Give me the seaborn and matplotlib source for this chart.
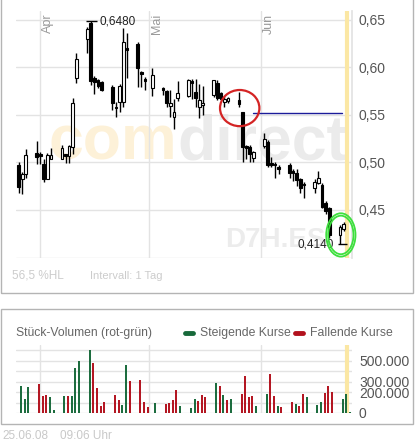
import numpy as np
import pandas as pd
import matplotlib
matplotlib.use("Agg")
import matplotlib.pyplot as plt
import matplotlib.dates as mdates
from matplotlib.patches import Ellipse, Rectangle
from matplotlib.lines import Line2D
import seaborn as sns

# trading days (May 1st holiday)
days = pd.bdate_range("2008-03-26", "2008-06-25")
days = days[days != pd.Timestamp("2008-05-01")]
candle_days = days[:-1]

# daily candles, Mar 26 .. Jun 24
opens = [0.497, 0.483, 0.488,
         0.510, 0.509, 0.498, 0.483, 0.503,
         0.503, 0.508, 0.507, 0.516, 0.589,
         0.630, 0.646, 0.589, 0.586, 0.584,
         0.579, 0.558, 0.563, 0.563, 0.620,
         0.624, 0.595, 0.588, 0.578,
         0.578, 0.575, 0.559, 0.548, 0.568,
         0.570, 0.585, 0.574, 0.558, 0.560,
         0.571, 0.583, 0.573, 0.563, 0.564,
         0.566, 0.553, 0.517, 0.516, 0.505,
         0.517, 0.521, 0.499, 0.498, 0.495,
         0.497, 0.490, 0.489, 0.483, 0.477,
         0.473, 0.478, 0.476, 0.457, 0.452,
         0.424, 0.430]
highs = [0.500, 0.490, 0.514,
         0.522, 0.511, 0.503, 0.510, 0.515,
         0.518, 0.509, 0.518, 0.568, 0.615,
         0.642, 0.648, 0.591, 0.588, 0.585,
         0.581, 0.563, 0.582, 0.641, 0.636,
         0.626, 0.596, 0.590, 0.599,
         0.579, 0.576, 0.576, 0.567, 0.585,
         0.588, 0.588, 0.588, 0.582, 0.580,
         0.587, 0.586, 0.574, 0.570, 0.569,
         0.574, 0.553, 0.518, 0.518, 0.512,
         0.531, 0.523, 0.506, 0.500, 0.497,
         0.499, 0.493, 0.493, 0.484, 0.479,
         0.483, 0.491, 0.478, 0.459, 0.453,
         0.434, 0.437]
lows = [0.468, 0.467, 0.484,
        0.498, 0.498, 0.479, 0.482, 0.503,
        0.503, 0.499, 0.499, 0.509, 0.583,
        0.615, 0.581, 0.572, 0.578, 0.575,
        0.555, 0.548, 0.553, 0.558, 0.589,
        0.579, 0.579, 0.576, 0.570,
        0.571, 0.558, 0.548, 0.535, 0.564,
        0.569, 0.567, 0.558, 0.547, 0.550,
        0.569, 0.565, 0.565, 0.558, 0.562,
        0.558, 0.500, 0.504, 0.500, 0.500,
        0.515, 0.495, 0.495, 0.484, 0.488,
        0.484, 0.480, 0.475, 0.468, 0.462,
        0.468, 0.477, 0.452, 0.446, 0.421,
        0.414, 0.428]
closes = [0.474, 0.488, 0.508,
          0.506, 0.507, 0.483, 0.508, 0.508,
          0.515, 0.507, 0.517, 0.562, 0.609,
          0.640, 0.585, 0.584, 0.580, 0.576,
          0.562, 0.557, 0.580, 0.626, 0.618,
          0.599, 0.593, 0.585, 0.592,
          0.576, 0.562, 0.562, 0.553, 0.573,
          0.586, 0.583, 0.568, 0.566, 0.562,
          0.586, 0.568, 0.567, 0.567, 0.568,
          0.561, 0.516, 0.515, 0.509, 0.511,
          0.524, 0.497, 0.497, 0.497, 0.493,
          0.489, 0.489, 0.481, 0.473, 0.476,
          0.479, 0.484, 0.453, 0.449, 0.424,
          0.432, 0.435]

# volume, Mar 26 .. Jun 25 (g = steigend, r = fallend)
volumes = [260000, 135000, 250000,
           280000, 165000, 175000, 155000, 30000,
           165000, 165000, 165000, 430000, 500000,
           605000, 480000, 240000, 70000, 105000,
           175000, 125000, 75000, 460000, 310000,
           315000, 105000, 60000, 100000,
           85000, 100000, 125000, 220000, 70000,
           50000, 135000, 115000, 175000, 155000,
           290000, 260000, 175000, 125000, 135000,
           185000, 355000, 155000, 165000, 70000,
           185000, 375000, 165000, 70000, 60000,
           105000, 85000, 70000, 185000, 155000,
           75000, 105000, 195000, 260000, 200000,
           135000, 185000, 10000]
vol_dir = list("ggg" "rrrgg" "grggg" "grrrr" "rrggr" "rrrg"
               "rrrrg" "ggrrr" "grgrg" "rrrrg" "grrgr" "rgrrg"
               "ggrrr" "ggg")

price_ticks = [0.40, 0.45, 0.50, 0.55, 0.60, 0.65]
price_labels = ["", "0,45", "0,50", "0,55", "0,60", "0,65"]
vol_ticks = [0, 100000, 200000, 300000, 400000, 500000, 600000]
vol_labels = ["0", "", "200.000", "300.000", "", "500.000", ""]
months = pd.to_datetime(["2008-04-01", "2008-05-01", "2008-06-01"])
month_names = ["Apr", "Mai", "Jun"]

x_start = pd.Timestamp("2008-03-25 07:00")
x_end = pd.Timestamp("2008-06-26 07:00")
today = pd.Timestamp("2008-06-24 20:00")

# markers drawn by the user on the chart
resist_level = 0.5523
resist_from = pd.Timestamp("2008-05-29 19:00")
resist_to = pd.Timestamp("2008-06-23 10:00")
red_ring = (pd.Timestamp("2008-05-26 05:00"), 0.557)
green_ring = (pd.Timestamp("2008-06-23 05:00"), 0.4237)

W, H = 417, 443
def fx(px):
    return px / W
def fy(py):
    return 1 - py / H

sns.set_theme(style="white")
plt.rcParams["font.family"] = ["Liberation Sans", "DejaVu Sans"]

green = "#17693a"
red = "#b2111d"
grid_c = "#e3e3e3"
label_c = "#555555"

fig = plt.figure(figsize=(W / 100, H / 100), dpi=100)
fig.patch.set_facecolor("white")

# ---------------- price panel ----------------
ax = fig.add_axes([fx(16), fy(257.5), fx(352) - fx(16), fy(11) - fy(257.5)])
ax.set_xlim(x_start, x_end)
ax.set_ylim(0.40, 0.659)
ax.set_xticks(months)
ax.set_xticklabels([])
ax.set_yticks(price_ticks)
ax.set_yticklabels(price_labels)
ax.yaxis.tick_right()
ax.tick_params(axis="y", length=0, pad=5, labelsize=10, labelcolor=label_c)
ax.tick_params(axis="x", length=0)
ax.grid(True, color=grid_c, lw=1)
for s in ["top", "left", "bottom"]:
    ax.spines[s].set_visible(False)
ax.spines["right"].set_color(grid_c)
ax.set_axisbelow(True)

# watermark
ax.text(fx(177), fy(160), "com", transform=fig.transFigure, ha="right", va="baseline",
        fontsize=45, fontweight="bold", color="#fdf1d8", zorder=0.5)
ax.text(fx(177), fy(160), "direct", transform=fig.transFigure, ha="left", va="baseline",
        fontsize=45, fontweight="bold", color="#ebebeb", zorder=0.5)
ax.text(fx(225), fy(247), "D7H.ES", transform=fig.transFigure, ha="left", va="baseline",
        fontsize=20, fontweight="bold", color="#ececec", zorder=0.5)

ax.axvline(today, color="#fbe7a4", lw=3, zorder=0.8)

for m, name in zip(months, month_names):
    ax.text(m + pd.Timedelta(hours=13), 0.656, name, rotation=90, ha="left", va="top",
            fontsize=9, color="#9a9a9a")

o = np.array(opens)
c = np.array(closes)
rising = c >= o
ax.vlines(candle_days, lows, highs, color="black", lw=1, zorder=3)
body_low = np.minimum(o, c)
body_h = np.maximum(np.abs(c - o), 0.0015)
ax.bar(candle_days, body_h, bottom=body_low, width=0.75,
       color=np.where(rising, "white", "black"), edgecolor="black", lw=0.8, zorder=4)

# high / low labels
i_hi = int(np.argmax(highs))
i_lo = int(np.argmin(lows))
d_hi = candle_days[i_hi]
d_lo = candle_days[i_lo]
ax.hlines(highs[i_hi], d_hi - pd.Timedelta(days=1.2), d_hi + pd.Timedelta(days=1.8),
          color="black", lw=1, zorder=4)
ax.text(d_hi + pd.Timedelta(days=2.3), highs[i_hi], f"{highs[i_hi]:.4f}".replace(".", ","),
        ha="left", va="center", fontsize=8.5, color="#222222")
ax.hlines(lows[i_lo], d_lo - pd.Timedelta(days=0.6), d_lo + pd.Timedelta(days=2),
          color="black", lw=1, zorder=4)
ax.text(d_lo - pd.Timedelta(days=1.6), lows[i_lo], f"{lows[i_lo]:.4f}".replace(".", ","),
        ha="right", va="center", fontsize=8.5, color="#222222", zorder=5)

sns.lineplot(x=[resist_from, resist_to], y=[resist_level, resist_level], ax=ax,
             color="#1c1c9a", lw=1, zorder=5)

ax.add_patch(Ellipse((mdates.date2num(red_ring[0]), red_ring[1]), 10.9, 0.038,
                     fill=False, edgecolor="#d42424", lw=1.6, zorder=6))
gx = mdates.date2num(green_ring[0])
ax.add_patch(Ellipse((gx, green_ring[1]), 8.1, 0.0455,
                     fill=False, edgecolor="#3ddf3d", lw=1.3, zorder=6, clip_on=False))
ax.add_patch(Ellipse((gx, green_ring[1]), 7.0, 0.0405,
                     fill=False, edgecolor="#3ddf3d", lw=1.3, zorder=6, clip_on=False))

fig.text(fx(12), fy(276), "56,5 %HL", fontsize=8.5, color="#cccccc", va="center")
fig.text(fx(90), fy(276), "Intervall: 1 Tag", fontsize=8, color="#cccccc", va="center")

# ---------------- volume panel ----------------
av = fig.add_axes([fx(16), fy(413), fx(352) - fx(16), fy(345) - fy(413)])
av.set_xlim(x_start, x_end)
av.set_ylim(0, 650000)
av.set_xticks(months)
av.set_xticklabels([])
av.set_yticks(vol_ticks)
av.set_yticklabels(vol_labels)
av.yaxis.tick_right()
av.tick_params(axis="y", length=0, pad=5, labelsize=10, labelcolor=label_c)
av.tick_params(axis="x", length=0)
av.grid(True, color=grid_c, lw=1)
for s in ["top", "left", "bottom", "right"]:
    av.spines[s].set_visible(False)
av.set_axisbelow(True)
av.axvline(today, color="#fbe7a4", lw=3, zorder=0.8)

vol_x = days + pd.Timedelta(hours=17)
vol_colors = [green if d == "g" else red for d in vol_dir]
av.vlines(vol_x, 0, volumes, colors=vol_colors, lw=1.4, zorder=3)

fig.text(fx(16), fy(333), "Stück-Volumen (rot-grün)", fontsize=8.7, color="#666666", va="center")
fig.add_artist(Line2D([fx(185), fx(193)], [fy(333), fy(333)], color=green, lw=3.5))
fig.text(fx(200), fy(333), "Steigende Kurse", fontsize=8.8, color="#666666", va="center")
fig.add_artist(Line2D([fx(295), fx(303)], [fy(333), fy(333)], color=red, lw=3.5))
fig.text(fx(310), fy(333), "Fallende Kurse", fontsize=8.8, color="#666666", va="center")

# panel frames
fig.add_artist(Rectangle((fx(1), fy(293)), fx(413) - fx(1), fy(-5) - fy(293),
                         transform=fig.transFigure, fill=False, edgecolor="#b4b4b4", lw=1))
fig.add_artist(Rectangle((fx(1), fy(424)), fx(413) - fx(1), fy(309) - fy(424),
                         transform=fig.transFigure, fill=False, edgecolor="#b4b4b4", lw=1))

fig.text(fx(2), fy(436), "25.06.08", fontsize=8.5, color="#c8c8c8", va="center")
fig.text(fx(60), fy(436), "09:06 Uhr", fontsize=8.5, color="#c8c8c8", va="center")

fig.savefig("out.png", dpi=100)
